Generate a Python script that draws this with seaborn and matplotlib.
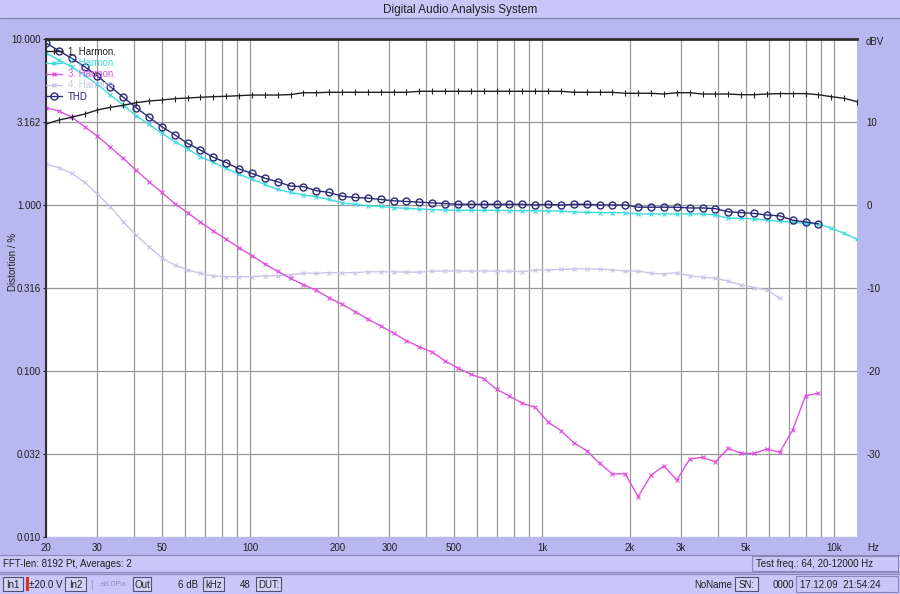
import numpy as np
import pandas as pd
import matplotlib
matplotlib.use("Agg")
import matplotlib.pyplot as plt
from matplotlib.patches import Rectangle
from matplotlib.lines import Line2D
from matplotlib.ticker import FixedLocator, FixedFormatter, NullLocator
import seaborn as sns

# ---------------- data ----------------
freq_hz = [20, 22.14, 24.50, 27.12, 30.02, 33.23, 36.78, 40.71, 45.06, 49.88,
           55.21, 61.11, 67.64, 74.87, 82.87, 91.73, 101.5, 112.4, 124.4, 137.7,
           152.4, 168.7, 186.7, 206.7, 228.8, 253.2, 280.3, 310.2, 343.4, 380.1,
           420.7, 465.7, 515.5, 570.6, 631.5, 699.0, 773.8, 856.5, 948.0, 1049,
           1161, 1285, 1423, 1575, 1743, 1929, 2136, 2364, 2617, 2896,
           3206, 3549, 3928, 4348, 4812, 5327, 5896, 6526, 7224, 7996,
           8850, 9796, 10843, 12000]

# 1. Harmon. (fundamental level, dBV, right axis)
h1_dbv = [9.76, 10.24, 10.57, 10.96, 11.45, 11.77, 12.01, 12.33, 12.53, 12.65,
          12.81, 12.89, 12.98, 13.05, 13.10, 13.17, 13.25, 13.25, 13.25, 13.30,
          13.53, 13.53, 13.58, 13.58, 13.58, 13.58, 13.58, 13.58, 13.58, 13.70,
          13.70, 13.70, 13.70, 13.70, 13.70, 13.70, 13.70, 13.70, 13.70, 13.70,
          13.70, 13.58, 13.58, 13.58, 13.58, 13.46, 13.46, 13.46, 13.37, 13.53,
          13.53, 13.37, 13.37, 13.37, 13.29, 13.29, 13.37, 13.42, 13.42, 13.42,
          13.29, 13.05, 12.86, 12.45]

# 2. Harmon. (%)
h2_pct = [8.24, 7.47, 6.78, 6.03, 5.32, 4.60, 4.00, 3.45, 3.06, 2.70,
          2.41, 2.18, 1.95, 1.81, 1.66, 1.53, 1.43, 1.33, 1.24, 1.19,
          1.15, 1.12, 1.08, 1.03, 1.01, 0.99, 0.98, 0.963, 0.955, 0.946,
          0.937, 0.933, 0.929, 0.929, 0.929, 0.929, 0.924, 0.924, 0.924, 0.920,
          0.920, 0.908, 0.904, 0.899, 0.899, 0.899, 0.883, 0.883, 0.885, 0.883,
          0.883, 0.883, 0.871, 0.832, 0.832, 0.824, 0.812, 0.798, 0.787, 0.776,
          0.768, 0.724, 0.676, 0.621]

# 3. Harmon. (%)
h3_pct = [3.86, 3.68, 3.38, 2.96, 2.60, 2.23, 1.91, 1.62, 1.38, 1.19,
          1.02, 0.899, 0.787, 0.697, 0.621, 0.553, 0.496, 0.441, 0.398, 0.361,
          0.331, 0.306, 0.276, 0.252, 0.228, 0.205, 0.187, 0.169, 0.152, 0.140,
          0.130, 0.115, 0.104, 0.0955, 0.0899, 0.0776, 0.0707, 0.0639, 0.0604, 0.0493,
          0.0437, 0.0370, 0.0331, 0.0278, 0.0240, 0.0240, 0.0175, 0.0236, 0.0268, 0.0220,
          0.0295, 0.0302, 0.0284, 0.0342, 0.0319, 0.0319, 0.0339, 0.0324, 0.0441, 0.0710,
          0.0734]

# 4. Harmon. (%)
h4_pct = [1.76, 1.68, 1.55, 1.37, 1.16, 0.977, 0.793, 0.660, 0.561, 0.481,
          0.435, 0.406, 0.388, 0.374, 0.370, 0.370, 0.370, 0.374, 0.375, 0.380,
          0.388, 0.388, 0.391, 0.391, 0.391, 0.396, 0.396, 0.396, 0.394, 0.394,
          0.400, 0.400, 0.400, 0.400, 0.400, 0.400, 0.400, 0.396, 0.406, 0.406,
          0.409, 0.412, 0.412, 0.411, 0.406, 0.400, 0.400, 0.388, 0.384, 0.391,
          0.375, 0.367, 0.362, 0.348, 0.330, 0.318, 0.308, 0.274]

# THD (%)
thd_pct = [9.46, 8.50, 7.65, 6.81, 5.98, 5.16, 4.46, 3.86, 3.38, 2.96,
           2.65, 2.35, 2.14, 1.94, 1.80, 1.65, 1.55, 1.45, 1.38, 1.30,
           1.29, 1.22, 1.19, 1.13, 1.11, 1.10, 1.08, 1.06, 1.05, 1.04,
           1.03, 1.02, 1.01, 1.01, 1.01, 1.01, 1.01, 1.01, 1.00, 1.01,
           1.00, 1.01, 1.01, 1.00, 1.00, 1.00, 0.97, 0.97, 0.97, 0.97,
           0.96, 0.96, 0.95, 0.91, 0.90, 0.89, 0.87, 0.86, 0.81, 0.79,
           0.77]

x_tick_vals = [20, 30, 50, 100, 200, 300, 500, 1000, 2000, 3000, 5000, 10000]
x_tick_labels = ["20", "30", "50", "100", "200", "300", "500", "1k", "2k", "3k", "5k", "10k"]
y_tick_vals = [0.01, 0.03162, 0.1, 0.3162, 1.0, 3.162, 10.0]
y_tick_labels = ["0.010", "0.032", "0.100", "0.316", "1.000", "3.162", "10.000"]
r_tick_vals = [-30, -20, -10, 0, 10]
r_tick_labels = ["-30", "-20", "-10", "0", "10"]

# ---------------- style ----------------
sns.set_theme(style="white")
plt.rcParams["font.family"] = ["Liberation Sans", "DejaVu Sans"]

BG = "#B8B8F0"
BAR = "#C8C8F8"
BTN = "#D2D2F6"
C1 = "#202020"
C2 = "#3CDCDC"
C3 = "#E050E0"
C4 = "#C6C6EA"
CT = "#2A2A78"
GRID = "#999999"

W, H = 900, 594
fig = plt.figure(figsize=(9, 5.94), dpi=100, facecolor=BG)


def fx(px):
    return px / W


def fy(py):
    return 1 - py / H


def prect(x0, y0, x1, y1, fc, ec="none", lw=0.8, z=0):
    r = Rectangle((fx(x0), fy(y1)), fx(x1) - fx(x0), fy(y0) - fy(y1),
                  transform=fig.transFigure, facecolor=fc, edgecolor=ec,
                  linewidth=lw, zorder=z)
    fig.patches.append(r)


def hline(py, x0=0, x1=W, color="#7070A0", lw=0.8):
    fig.add_artist(Line2D([fx(x0), fx(x1)], [fy(py), fy(py)],
                          transform=fig.transFigure, color=color, lw=lw))


# title band
prect(0, 0, W, 18, BAR)
hline(18, color="#8080B0")
fig.text(fx(460), fy(10), "Digital Audio Analysis System", ha="center",
         va="center", fontsize=8.5, color="#202020")

# status rows
prect(0, 555, W, 572, BAR)
hline(555, color="#8888B8")
hline(572, color="#8888B8")
prect(752, 556, 898, 571, BAR, ec="#8888B8", lw=0.8)
fig.text(fx(3), fy(564), "FFT-len: 8192 Pt, Averages: 2", ha="left",
         va="center", fontsize=7, color="#202020")
fig.text(fx(756), fy(564), "Test freq.: 64, 20-12000 Hz", ha="left",
         va="center", fontsize=7, color="#202020")

prect(0, 574, W, H, BAR)
hline(574, color="#8888B8")

# buttons (x0, x1, label)
buttons = [(3, 23, "In1"), (65, 86, "In2"), (133, 151, "Out"), (203, 224, "kHz"),
           (256, 281, "DUT:"), (735, 758, "SN:")]
for bx0, bx1, lab in buttons:
    prect(bx0, 577, bx1, 591, BTN, ec="#505070", lw=0.8)
    fig.text(fx((bx0 + bx1) / 2), fy(584.5), lab, ha="center", va="center",
             fontsize=7, color="#202020")
prect(26, 577, 29, 591, "#E03030")
fig.text(fx(29), fy(584.5), "±20.0 V", ha="left", va="center", fontsize=7, color="#202020")
fig.text(fx(90), fy(584.5), "|", ha="left", va="center", fontsize=7, color="#9090B0")
fig.text(fx(100), fy(584.5), "±8.0Pa", ha="left", va="center", fontsize=6, color="#9090B8")
fig.text(fx(198), fy(584.5), "6 dB", ha="right", va="center", fontsize=7, color="#202020")
fig.text(fx(251), fy(584.5), "48", ha="right", va="center", fontsize=7, color="#202020")
fig.text(fx(732), fy(584.5), "NoName", ha="right", va="center", fontsize=7, color="#202020")
fig.text(fx(794), fy(584.5), "0000", ha="right", va="center", fontsize=7, color="#202020")
prect(796, 576, 898, 592, BAR, ec="#8888B8", lw=0.8)
fig.text(fx(800), fy(584.5), "17.12.09  21:54:24", ha="left", va="center",
         fontsize=7, color="#202020")

# ---------------- axes ----------------
ax = fig.add_axes([fx(46), fy(537), fx(857) - fx(46), fy(39) - fy(537)])
ax.set_facecolor("white")
ax.set_xscale("log")
ax.set_yscale("log")
ax.set_xlim(20, 12000)
ax.set_ylim(0.01, 10.0)

sns.lineplot(x=freq_hz[:len(h4_pct)], y=h4_pct, ax=ax, color=C4, lw=1.0,
             marker="x", markersize=3, markeredgecolor=C4, markeredgewidth=0.8,
             estimator=None, label="4. Harmon.", legend=False)
sns.lineplot(x=freq_hz[:len(h3_pct)], y=h3_pct, ax=ax, color=C3, lw=1.0,
             marker="x", markersize=3, markeredgecolor=C3, markeredgewidth=0.8,
             estimator=None, label="3. Harmon.", legend=False)
sns.lineplot(x=freq_hz[:len(h2_pct)], y=h2_pct, ax=ax, color=C2, lw=1.0,
             marker="x", markersize=2.5, markeredgecolor=C2, markeredgewidth=0.8,
             estimator=None, label="2. Harmon.", legend=False)
sns.lineplot(x=freq_hz[:len(thd_pct)], y=thd_pct, ax=ax, color=CT, lw=1.0,
             marker="o", markersize=5.0, markerfacecolor="none",
             markeredgecolor=CT, markeredgewidth=1.0,
             estimator=None, label="THD", legend=False)

ax.xaxis.set_major_locator(FixedLocator(x_tick_vals))
ax.xaxis.set_major_formatter(FixedFormatter(x_tick_labels))
grid_x = [v * d for d in (10, 100, 1000) for v in range(2, 10)] + [10000]
grid_x = [g for g in grid_x if g > 20]
ax.xaxis.set_minor_locator(FixedLocator(grid_x))
ax.yaxis.set_major_locator(FixedLocator(y_tick_vals))
ax.yaxis.set_major_formatter(FixedFormatter(y_tick_labels))
ax.yaxis.set_minor_locator(NullLocator())
ax.grid(which="both", axis="x", color=GRID, lw=0.9)
ax.grid(which="major", axis="y", color=GRID, lw=0.9)
ax.tick_params(axis="x", which="both", length=0, pad=4, labelsize=7, colors="#202020")
ax.tick_params(axis="y", which="major", length=2, width=0.8, pad=1.5, labelsize=7,
               colors="#202020")
for s in ("right", "bottom"):
    ax.spines[s].set_visible(False)
ax.spines["top"].set_color("#303030")
ax.spines["top"].set_linewidth(2.0)
ax.spines["left"].set_color("#303030")
ax.spines["left"].set_linewidth(1.5)
ax.set_xlabel("")
ax.set_ylabel("")

# right axis (dBV)
ax2 = ax.twinx()
sns.lineplot(x=freq_hz[:len(h1_dbv)], y=h1_dbv, ax=ax2, color=C1, lw=1.0,
             marker="|", markersize=4, markeredgecolor=C1, markeredgewidth=0.8,
             estimator=None, legend=False)
ax2.set_ylim(-40, 20)
ax2.yaxis.set_major_locator(FixedLocator(r_tick_vals))
ax2.yaxis.set_major_formatter(FixedFormatter(r_tick_labels))
ax2.tick_params(axis="y", length=0, pad=7, labelsize=7, colors="#202020")
for s in ax2.spines.values():
    s.set_visible(False)
ax2.set_ylabel("")
ax2.set_xlim(20, 12000)
ax2.grid(False)

# legend
handles = [
    Line2D([], [], color=C1, lw=1.0, marker="|", markersize=4, markeredgecolor=C1),
    Line2D([], [], color=C2, lw=1.0, marker="x", markersize=2.5, markeredgecolor=C2),
    Line2D([], [], color=C3, lw=1.0, marker="x", markersize=3, markeredgecolor=C3),
    Line2D([], [], color=C4, lw=1.0, marker="x", markersize=3, markeredgecolor=C4),
    Line2D([], [], color=CT, lw=1.0, marker="o", markersize=5.0,
           markerfacecolor="none", markeredgecolor=CT),
]
labels = ["1. Harmon.", "2. Harmon.", "3. Harmon.", "4. Harmon.", "THD"]
leg = ax.legend(handles, labels, loc="upper left", bbox_to_anchor=(-0.003, 0.99),
                frameon=False, fontsize=7, handlelength=1.6, handletextpad=0.6,
                labelspacing=0.12, borderaxespad=0.0, borderpad=0.3)
for t, c in zip(leg.get_texts(), [C1, C2, C3, C4, CT]):
    t.set_color(c)

# axis texts
fig.text(fx(13), fy(262), "Distortion / %", rotation=90, ha="center", va="center",
         fontsize=7, color="#202020")
fig.text(fx(866), fy(42), "dBV", ha="left", va="center", fontsize=7, color="#202020")
fig.text(fx(873), fy(548), "Hz", ha="center", va="center", fontsize=7, color="#202020")

fig.savefig("out.png", dpi=100, facecolor=fig.get_facecolor())
